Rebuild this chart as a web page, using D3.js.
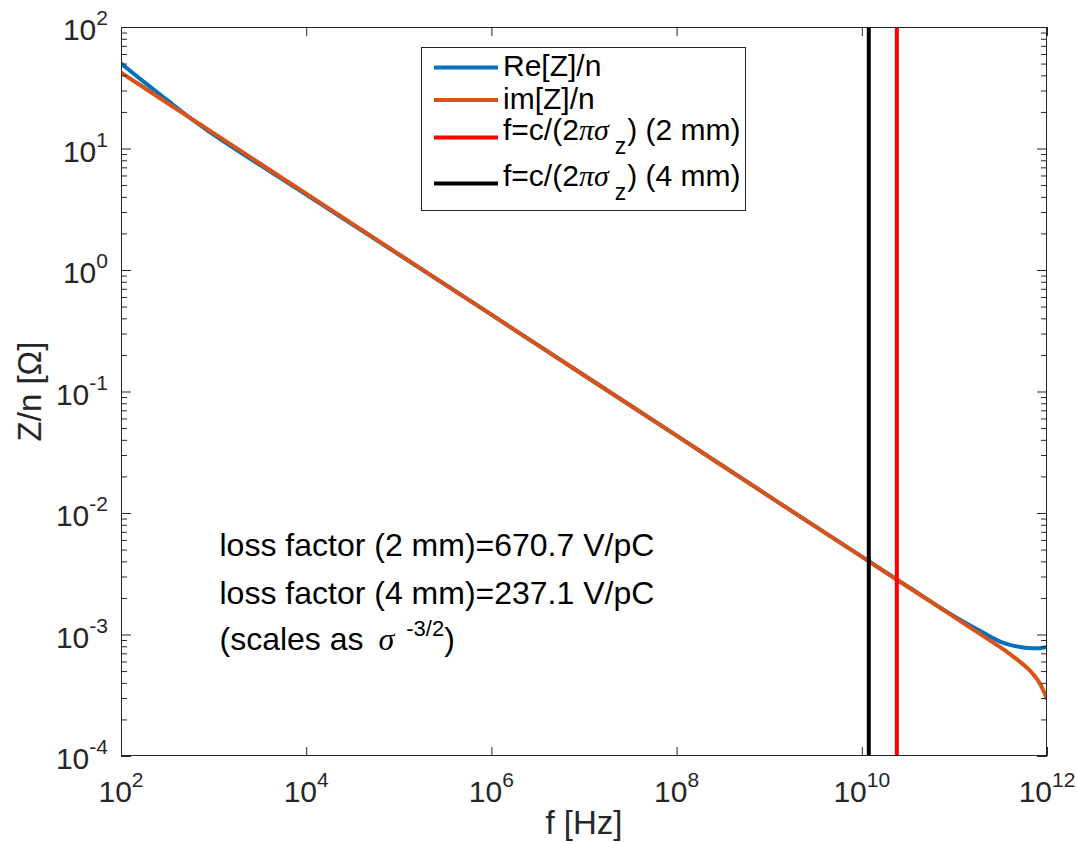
<!DOCTYPE html>
<html>
<head>
<meta charset="utf-8">
<script src="https://cdn.jsdelivr.net/npm/d3@7"></script>
<style>
  html, body { margin: 0; padding: 0; background: #fff; }
  svg { display: block; font-family: "Liberation Sans", Arial, Helvetica, sans-serif; }
</style>
</head>
<body>
<svg id="chart" width="1077" height="842"></svg>
<script>
// ---- data ----
const freq = [1e2, 1.78e2, 3.16e2, 5.62e2, 1e3, 3.16e3, 1e4, 1e5, 1e6, 1e7, 1e8, 1e9, 1e10,
              3.16e10, 1e11, 1.78e11, 3.16e11, 3.98e11, 5.01e11, 6.31e11, 7.08e11, 7.94e11, 8.91e11, 1e12];
const reZ = [50.2, 35.2, 25.0, 17.8, 13.0, 7.33, 4.17, 1.34, 0.429, 0.136, 0.0433, 0.0137, 0.00437,
             0.00247, 0.00141, 0.00110, 0.000871, 0.000822, 0.000791, 0.000773, 0.000772, 0.000771, 0.000776, 0.000785];
const imZ = [42.1, 31.6, 23.7, 17.8, 13.4, 7.53, 4.25, 1.35, 0.429, 0.136, 0.0433, 0.0137, 0.00437,
             0.00246, 0.00139, 0.00104, 0.000782, 0.000690, 0.000604, 0.000518, 0.000471, 0.000421, 0.000361, 0.000293];
const cutoffFreq = [2.39e10, 1.19e10];       // f=c/(2πσz) for 2 mm and 4 mm
const cutoffLabels = ["2 mm", "4 mm"];
const seriesNames = ["Re[Z]/n", "im[Z]/n"];
const xTickExp = [2, 4, 6, 8, 10, 12];
const yTickExp = [-4, -3, -2, -1, 0, 1, 2];
const annotation = ["loss factor (2 mm)=670.7 V/pC", "loss factor (4 mm)=237.1 V/pC"];

// ---- layout ----
const L = 121, R = 1047, T = 27, B = 756;
const svg = d3.select("#chart");
const x = d3.scaleLog().domain([1e2, 1e12]).range([L, R]);
const y = d3.scaleLog().domain([1e-4, 1e2]).range([B, T]);
const axisColor = "#262626";
const colors = ["#0072BD", "#D95319", "#FF0000", "#000000"];

svg.append("rect").attr("width", 1077).attr("height", 842).attr("fill", "#fff");
svg.append("defs").append("clipPath").attr("id", "clip")
  .append("rect").attr("x", L).attr("y", T).attr("width", R - L).attr("height", B - T);

const plot = svg.append("g").attr("clip-path", "url(#clip)");

// curves
const line = d3.line().x(d => x(d[0])).y(d => y(d[1])).curve(d3.curveMonotoneX);
[reZ, imZ].forEach((vals, i) => {
  plot.append("path")
    .datum(freq.map((f, k) => [f, vals[k]]))
    .attr("d", line)
    .attr("fill", "none")
    .attr("stroke", colors[i])
    .attr("stroke-width", 4)
    .attr("stroke-linejoin", "round");
});
// vertical lines
cutoffFreq.forEach((f, i) => {
  plot.append("line")
    .attr("x1", x(f)).attr("x2", x(f))
    .attr("y1", B).attr("y2", T)
    .attr("stroke", colors[2 + i]).attr("stroke-width", 4);
});

// ---- axes ----
const xMajor = xTickExp.map(e => Math.pow(10, e));
const yMajor = yTickExp.map(e => Math.pow(10, e));
const yMinor = [];
for (let e = -4; e < 2; e++) for (let m = 2; m <= 9; m++) yMinor.push(m * Math.pow(10, e));

function styleAxis(g) {
  g.select(".domain").remove();
  g.selectAll(".tick line").attr("stroke", axisColor).attr("stroke-width", 1);
  g.selectAll(".tick text").remove();
}
svg.append("g").attr("transform", `translate(0,${B})`)
  .call(d3.axisBottom(x).tickValues(xMajor).tickSize(-9).tickFormat("")).call(styleAxis);
svg.append("g").attr("transform", `translate(0,${T})`)
  .call(d3.axisTop(x).tickValues(xMajor).tickSize(-9).tickFormat("")).call(styleAxis);
svg.append("g").attr("transform", `translate(${L},0)`)
  .call(d3.axisLeft(y).tickValues(yMajor).tickSize(-10).tickFormat("")).call(styleAxis);
svg.append("g").attr("transform", `translate(${L},0)`)
  .call(d3.axisLeft(y).tickValues(yMinor).tickSize(-6).tickFormat("")).call(styleAxis);
svg.append("g").attr("transform", `translate(${R},0)`)
  .call(d3.axisRight(y).tickValues(yMajor).tickSize(-10).tickFormat("")).call(styleAxis);
svg.append("g").attr("transform", `translate(${R},0)`)
  .call(d3.axisRight(y).tickValues(yMinor).tickSize(-6).tickFormat("")).call(styleAxis);

// box
svg.append("rect").attr("x", L + 0.5).attr("y", T + 0.5).attr("width", R - L - 1).attr("height", B - T - 1)
  .attr("fill", "none").attr("stroke", axisColor).attr("stroke-width", 1);

// tick labels
const tickFont = 30, supFont = 21;
xTickExp.forEach(e => {
  const t = svg.append("text").attr("x", x(Math.pow(10, e))).attr("y", B + 46)
    .attr("text-anchor", "middle").attr("fill", axisColor).attr("font-size", tickFont);
  t.append("tspan").text("10");
  t.append("tspan").attr("dy", -15).attr("font-size", supFont).text(e);
});
yTickExp.forEach(e => {
  const t = svg.append("text").attr("x", 108).attr("y", y(Math.pow(10, e)) + 13)
    .attr("text-anchor", "end").attr("fill", axisColor).attr("font-size", tickFont);
  t.append("tspan").text("10");
  t.append("tspan").attr("dy", -15).attr("font-size", supFont).text(e);
});

// axis labels
svg.append("text").attr("x", (L + R) / 2).attr("y", 834).attr("text-anchor", "middle")
  .attr("fill", axisColor).attr("font-size", 33).text("f [Hz]");
svg.append("text").attr("transform", `translate(41,${(T + B) / 2}) rotate(-90)`)
  .attr("text-anchor", "middle").attr("fill", axisColor).attr("font-size", 33).text("Z/n [Ω]");

// ---- legend ----
const lg = svg.append("g");
lg.append("rect").attr("x", 421.5).attr("y", 47.5).attr("width", 324).attr("height", 163)
  .attr("fill", "#fff").attr("stroke", axisColor).attr("stroke-width", 1);
const legLineY = [67.5, 100, 137.5, 183.5];
const legBase = [75.5, 108.5, 139.5, 185.5];
const legFont = 30;
for (let i = 0; i < 4; i++) {
  lg.append("line").attr("x1", 434).attr("x2", 498).attr("y1", legLineY[i]).attr("y2", legLineY[i])
    .attr("stroke", colors[i]).attr("stroke-width", 4);
  const t = lg.append("text").attr("x", 503).attr("y", legBase[i]).attr("font-size", legFont).attr("fill", "#000");
  if (i < 2) {
    t.text(seriesNames[i]);
  } else {
    t.append("tspan").text("f=c/(2");
    t.append("tspan").attr("font-family", "'Liberation Serif', serif").attr("font-style", "italic").text("πσ");
    t.append("tspan").attr("dx", 6).attr("dy", 14).attr("font-size", 23).text("z");
    t.append("tspan").attr("dx", 1).attr("dy", -14).text(") (" + cutoffLabels[i - 2] + ")");
  }
}

// ---- annotation ----
const annX = 219.5, annFont = 32;
annotation.forEach((s, i) => {
  svg.append("text").attr("x", annX).attr("y", 556 + i * 47.5)
    .attr("font-size", annFont).attr("fill", "#000").text(s);
});
const a3 = svg.append("text").attr("x", annX).attr("y", 650).attr("font-size", annFont).attr("fill", "#000");
a3.append("tspan").text("(scales as ");
a3.append("tspan").attr("dx", 6).attr("font-family", "'Liberation Serif', serif").attr("font-style", "italic").text("σ");
a3.append("tspan").attr("dx", 12).attr("dy", -14).attr("font-size", 22).text("-3/2");
a3.append("tspan").attr("dy", 14).text(")");
</script>
</body>
</html>
